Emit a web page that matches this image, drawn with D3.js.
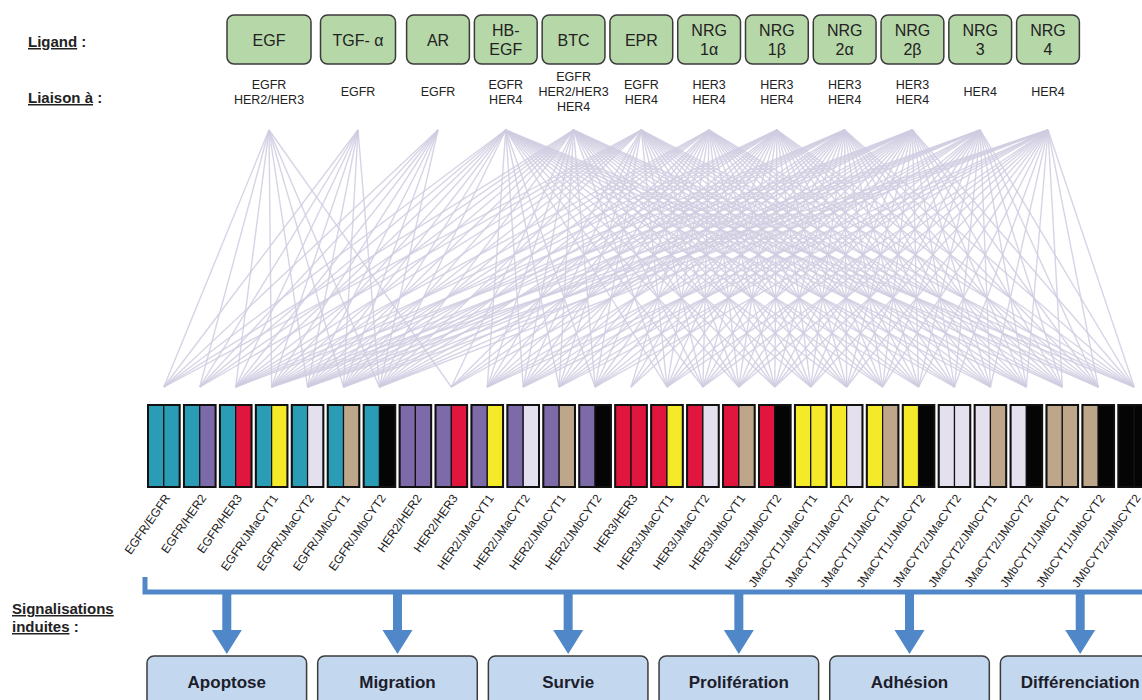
<!DOCTYPE html>
<html>
<head>
<meta charset="utf-8">
<script src="https://cdn.jsdelivr.net/npm/d3@7"></script>
<style>
  body { margin: 0; background: #fff; }
  svg { display: block; font-family: "Liberation Sans", Arial, sans-serif; }
</style>
</head>
<body>
<div id="chart"></div>
<script>
// ligands (box text, one entry per line) and what they bind to
const ligands = [["EGF"], ["TGF- α"], ["AR"], ["HB-", "EGF"], ["BTC"], ["EPR"],
  ["NRG", "1α"], ["NRG", "1β"], ["NRG", "2α"], ["NRG", "2β"], ["NRG", "3"], ["NRG", "4"]]
const bindings = [["EGFR", "HER2/HER3"], ["EGFR"], ["EGFR"], ["EGFR", "HER4"],
  ["EGFR", "HER2/HER3", "HER4"], ["EGFR", "HER4"], ["HER3", "HER4"], ["HER3", "HER4"],
  ["HER3", "HER4"], ["HER3", "HER4"], ["HER4"], ["HER4"]]

const receptors = ["EGFR", "HER2", "HER3", "JMaCYT1", "JMaCYT2", "JMbCYT1", "JMbCYT2"]
const receptorColors = ["#2b9cb6", "#7d6aa8", "#e0163e", "#f4ea2a", "#e4e0ee", "#bea68b", "#050505"]
const her4Isoforms = ["JMaCYT1", "JMaCYT2", "JMbCYT1", "JMbCYT2"]

const outcomes = ["Apoptose", "Migration", "Survie", "Prolifération", "Adhésion", "Différenciation"]

// every dimer pair, in the order of the picture
const dimers = []
receptors.forEach((a, i) => receptors.slice(i).forEach(b => dimers.push([a, b])))

const width = 1142, height = 700
const svg = d3.select("#chart").append("svg")
  .attr("width", width).attr("height", height)

const color = d3.scaleOrdinal().domain(receptors).range(receptorColors)

const xLig = d3.scaleLinear().domain([0, 1, 2, 11]).range([269, 358, 438, 1048])
const xDim = d3.scaleBand().domain(d3.range(dimers.length)).range([148, 1150]).paddingInner(0.12)
const xOut = d3.scaleBand().domain(outcomes).range([147, 1160]).paddingInner(0.065)

function binds(recs, dimer) {
  const name = dimer.join("/")
  return recs.some(r => {
    if (r === "HER2/HER3") return name === "HER2/HER3"
    if (r === "HER4") return dimer.some(d => her4Isoforms.includes(d))
    return dimer.includes(r)
  })
}

// links ligand -> dimer
const links = []
bindings.forEach((recs, i) => dimers.forEach((d, j) => {
  if (binds(recs, d)) links.push({ s: i, t: j })
}))
svg.append("g")
  .attr("stroke", "#cfcde0").attr("stroke-width", 1.4).attr("stroke-opacity", 0.85)
  .selectAll("line").data(links).join("line")
    .attr("x1", d => xLig(d.s)).attr("y1", 130)
    .attr("x2", d => xDim(d.t) + xDim.bandwidth() / 2).attr("y2", 387)

// left headings
function heading(y, words) {
  const t = svg.append("text").attr("x", words.x).attr("y", y)
    .attr("font-size", 15).attr("font-weight", "bold").attr("fill", "#222")
  t.append("tspan").attr("text-decoration", "underline").text(words.u)
  t.append("tspan").text(words.rest)
  return t
}
heading(47, { x: 28, u: "Ligand", rest: " :" })
heading(103, { x: 28, u: "Liaison à", rest: " :" })
heading(614, { x: 12, u: "Signalisations", rest: "" })
heading(632, { x: 12, u: "induites", rest: " :" })

// ligand boxes
function boxWidth(i) {
  const gaps = []
  if (i > 0) gaps.push(xLig(i) - xLig(i - 1))
  if (i < ligands.length - 1) gaps.push(xLig(i + 1) - xLig(i))
  return d3.min(gaps) - 5
}
const lig = svg.append("g").selectAll("g").data(ligands).join("g")
  .attr("transform", (d, i) => `translate(${xLig(i)},0)`)
lig.append("rect")
  .attr("x", (d, i) => -boxWidth(i) / 2).attr("y", 15)
  .attr("width", (d, i) => boxWidth(i)).attr("height", 49)
  .attr("rx", 7).attr("fill", "#b6d7a8").attr("stroke", "#3b3b3b").attr("stroke-width", 1.5)
lig.each(function(lines) {
  const g = d3.select(this)
  lines.forEach((l, k) => {
    g.append("text").attr("text-anchor", "middle").attr("dominant-baseline", "central")
      .attr("y", 40 + (k - (lines.length - 1) / 2) * 19)
      .attr("font-size", 16).attr("fill", "#222").text(l)
  })
})
// binding labels
lig.each(function(d, i) {
  const g = d3.select(this), recs = bindings[i]
  recs.forEach((r, k) => {
    g.append("text").attr("text-anchor", "middle").attr("dominant-baseline", "central")
      .attr("y", 92 + (k - (recs.length - 1) / 2) * 15)
      .attr("font-size", 12.5).attr("fill", "#222").text(r)
  })
})

// dimer boxes
const bw = xDim.bandwidth()
const dim = svg.append("g").selectAll("g").data(dimers).join("g")
  .attr("transform", (d, i) => `translate(${xDim(i)},405)`)
dim.selectAll("rect.half").data(d => d).join("rect")
  .attr("class", "half")
  .attr("x", (d, k) => k * bw / 2).attr("width", bw / 2).attr("height", 82)
  .attr("fill", d => color(d)).attr("stroke", "#111").attr("stroke-width", 1.2)
dim.append("rect").attr("width", bw).attr("height", 82)
  .attr("fill", "none").attr("stroke", "#111").attr("stroke-width", 2)
dim.append("text")
  .attr("transform", `translate(${bw / 2 + 7},93) rotate(-55)`)
  .attr("text-anchor", "end").attr("font-size", 12).attr("fill", "#222")
  .text(d => d.join("/"))

// signalling bus + arrows
const blue = "#4f87c8"
svg.append("path")
  .attr("d", d3.line()([[145, 577], [145, 592], [width, 592]]))
  .attr("fill", "none").attr("stroke", blue).attr("stroke-width", 5)
const arr = svg.append("g").selectAll("g").data(outcomes).join("g")
  .attr("transform", d => `translate(${xOut(d) + xOut.bandwidth() / 2},0)`)
arr.append("rect").attr("x", -4.5).attr("y", 592).attr("width", 9).attr("height", 40).attr("fill", blue)
arr.append("path").attr("d", d3.line()([[-15, 630], [15, 630], [0, 654]])).attr("fill", blue)

// outcome boxes
svg.append("g").selectAll("rect").data(outcomes).join("rect")
  .attr("x", d => xOut(d)).attr("y", 656)
  .attr("width", xOut.bandwidth()).attr("height", 60).attr("rx", 7)
  .attr("fill", "#c3d8ee").attr("stroke", "#3b3b3b").attr("stroke-width", 1.5)
svg.append("g").selectAll("text").data(outcomes).join("text")
  .attr("x", d => xOut(d) + xOut.bandwidth() / 2).attr("y", 682)
  .attr("text-anchor", "middle").attr("dominant-baseline", "central")
  .attr("font-size", 17).attr("font-weight", "bold").attr("fill", "#1d1d2b")
  .text(d => d)
</script>
</body>
</html>
